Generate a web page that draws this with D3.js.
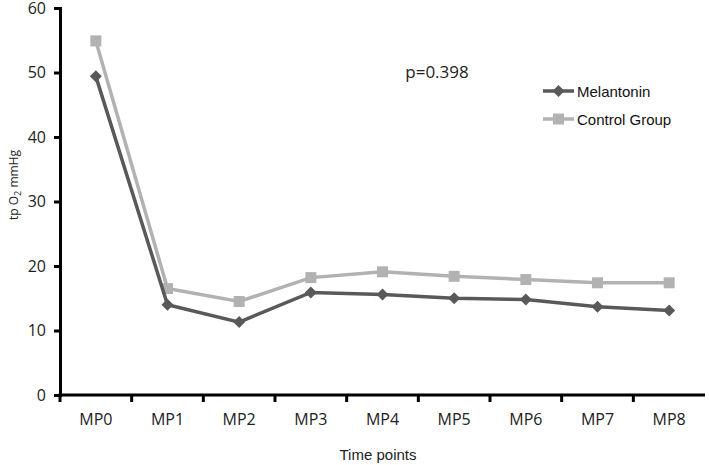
<!DOCTYPE html>
<html>
<head>
<meta charset="utf-8">
<script src="https://cdn.jsdelivr.net/npm/d3@7"></script>
<style>
  body { margin: 0; background: #fff; }
  svg { display: block; }
</style>
</head>
<body>
<svg id="chart" width="709" height="465"></svg>
<script>
const categories = ['MP0', 'MP1', 'MP2', 'MP3', 'MP4', 'MP5', 'MP6', 'MP7', 'MP8']
const melatonin = [49.4, 14.0, 11.3, 15.9, 15.6, 15.0, 14.8, 13.7, 13.1]
const control = [54.9, 16.5, 14.5, 18.2, 19.1, 18.4, 17.9, 17.4, 17.4]
const yTicks = [0, 10, 20, 30, 40, 50, 60]

const svg = d3.select('#chart')
const margin = { left: 60, right: 4, top: 8, bottom: 70 }
const width = 709
const height = 465

const x = d3
    .scaleBand()
    .domain(categories)
    .range([margin.left, width - margin.right])

const y = d3
    .scaleLinear()
    .domain([0, 60])
    .range([height - margin.bottom, margin.top])

const tickFont = "'Open Sans', 'DejaVu Sans', sans-serif"
const arial = "'Liberation Sans', Arial, sans-serif"

// y axis
const yAxis = svg
    .append('g')
    .attr('transform', `translate(${margin.left},0)`)
    .call(d3.axisLeft(y).tickValues(yTicks).tickSize(6).tickPadding(8))
yAxis.select('.domain').attr('stroke', '#000').attr('stroke-width', 3)
yAxis.selectAll('.tick line').attr('stroke', '#000').attr('stroke-width', 3)
yAxis
    .selectAll('.tick text')
    .attr('font-family', tickFont)
    .attr('font-size', 16)
    .attr('fill', '#222')

// x axis, ticks on category boundaries
const xAxis = svg
    .append('g')
    .attr('transform', `translate(0,${y(0)})`)
xAxis
    .append('line')
    .attr('x1', margin.left - 1.5)
    .attr('x2', width - margin.right)
    .attr('stroke', '#000')
    .attr('stroke-width', 3)
xAxis
    .selectAll('line.tick')
    .data(categories)
    .join('line')
    .attr('class', 'tick')
    .attr('x1', (d) => x(d))
    .attr('x2', (d) => x(d))
    .attr('y1', 0)
    .attr('y2', 7)
    .attr('stroke', '#000')
    .attr('stroke-width', 3)
xAxis
    .selectAll('text')
    .data(categories)
    .join('text')
    .attr('x', (d) => x(d) + x.bandwidth() / 2)
    .attr('y', 30)
    .attr('text-anchor', 'middle')
    .attr('font-family', tickFont)
    .attr('font-size', 16)
    .attr('fill', '#222')
    .text((d) => d)

// axis titles
svg.append('text')
    .attr('x', 378)
    .attr('y', 460)
    .attr('text-anchor', 'middle')
    .attr('font-family', arial)
    .attr('font-size', 15)
    .attr('fill', '#222')
    .text('Time points')

const yTitle = svg
    .append('text')
    .attr('transform', 'translate(18,185) rotate(-90)')
    .attr('text-anchor', 'middle')
    .attr('font-family', tickFont)
    .attr('font-size', 12)
    .attr('fill', '#222')
yTitle.append('tspan').text('tp O')
yTitle.append('tspan').attr('font-size', 9).attr('dy', 3).text('2')
yTitle.append('tspan').attr('dy', -3).text(' mmHg')

svg.append('text')
    .attr('x', 437)
    .attr('y', 78)
    .attr('text-anchor', 'middle')
    .attr('font-family', tickFont)
    .attr('font-size', 17)
    .attr('fill', '#222')
    .text('p=0.398')

const cx = (i) => x(categories[i]) + x.bandwidth() / 2
const line = d3
    .line()
    .x((d, i) => cx(i))
    .y((d) => y(d))

const series = [
    { name: 'Melantonin', values: melatonin, color: '#595959', shape: 'diamond' },
    { name: 'Control Group', values: control, color: '#b2b2b2', shape: 'square' },
]

const marker = (shape) =>
    shape === 'diamond'
        ? 'M0,-6L6,0L0,6L-6,0Z'
        : 'M-5.5,-5.5H5.5V5.5H-5.5Z'

// control drawn first so melatonin sits on top
series
    .slice()
    .reverse()
    .forEach((s) => {
        const g = svg.append('g')
        g.append('path')
            .attr('d', line(s.values))
            .attr('fill', 'none')
            .attr('stroke', s.color)
            .attr('stroke-width', 3.5)
        g.selectAll('path.pt')
            .data(s.values)
            .join('path')
            .attr('class', 'pt')
            .attr('transform', (d, i) => `translate(${cx(i)},${y(d)})`)
            .attr('d', marker(s.shape))
            .attr('fill', s.color)
    })

// legend
const legend = svg
    .append('g')
    .selectAll('g')
    .data(series)
    .join('g')
    .attr('transform', (d, i) => `translate(543,${91 + i * 28})`)
legend
    .append('line')
    .attr('x1', 0)
    .attr('x2', 31)
    .attr('stroke', (d) => d.color)
    .attr('stroke-width', 3.5)
legend
    .append('path')
    .attr('transform', 'translate(15.5,0)')
    .attr('d', (d) => marker(d.shape))
    .attr('fill', (d) => d.color)
legend
    .append('text')
    .attr('x', 34)
    .attr('y', 5.5)
    .attr('font-family', arial)
    .attr('font-size', 15)
    .attr('fill', '#111')
    .text((d) => d.name)
</script>
</body>
</html>
